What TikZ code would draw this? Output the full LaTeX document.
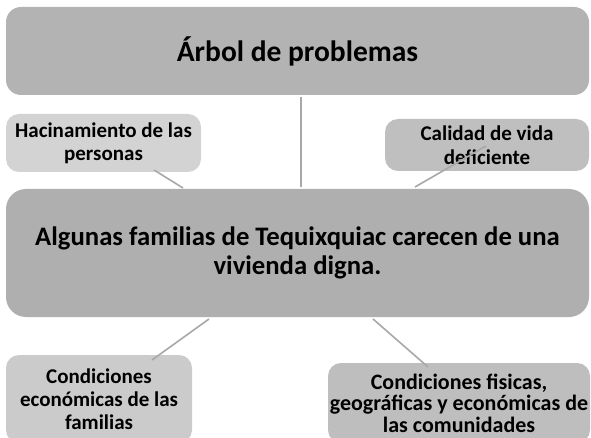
\documentclass[tikz,border=0pt]{standalone}
\usepackage{fontspec}
\setmainfont{Carlito}
\definecolor{cTop}{HTML}{B3B3B3}
\definecolor{cHac}{HTML}{D3D3D3}
\definecolor{cCal}{HTML}{BFBFBF}
\definecolor{cMain}{HTML}{AFAFAF}
\definecolor{cBL}{HTML}{CBCBCB}
\definecolor{cBR}{HTML}{BEBEBE}
\definecolor{cLine}{HTML}{A8A8A8}
\tikzset{
  box/.style={rounded corners=13pt, inner sep=0pt, align=center, text=black, font=\bfseries\fontsize{21}{23}\selectfont},
  conn/.style={draw=cLine, line width=1.6pt}
}
\begin{document}
\begin{tikzpicture}[x=1pt,y=-1pt]
\useasboundingbox (0,0) rectangle (591,438);
\clip (0,0) rectangle (591,438);
\fill[white] (0,0) rectangle (591,438);
% boxes
\node[box, fill=cTop, minimum width=583pt, minimum height=88pt, rounded corners=15pt, font=\bfseries\fontsize{29.5}{32}\selectfont] (top) at (297.5,51) {Árbol de problemas};
\node[box, fill=cHac, minimum width=195pt, minimum height=58pt] (hac) at (103.5,143) {Hacinamiento de las\\personas};
\node[box, fill=cCal, minimum width=204pt, minimum height=52pt, font=\bfseries\fontsize{21}{24}\selectfont] (cal) at (487,145) {Calidad de vida\\deficiente};
\node[box, fill=cMain, minimum width=583pt, minimum height=128pt, rounded corners=20pt, font=\bfseries\fontsize{26.7}{29.5}\selectfont] (main) at (297.5,253) {Algunas familias de Tequixquiac carecen de una\\vivienda digna.};
\node[box, fill=cBL, minimum width=186pt, minimum height=88pt] (bl) at (99,399) {Condiciones\\económicas de las\\familias};
\node[box, fill=cBR, minimum width=262pt, minimum height=80pt, font=\bfseries\fontsize{22}{21.5}\selectfont] (br) at (459,403) {Condiciones fisicas,\\geográficas y económicas de\\las comunidades};
% connector ends
\coordinate (v1) at (301,97);
\coordinate (v2) at (301,187);
\coordinate (h1) at (154,170);
\coordinate (h2) at (183,188);
\coordinate (c1) at (486,146);
\coordinate (c2) at (415,187);
\coordinate (b1) at (209,319);
\coordinate (b2) at (152,360);
\coordinate (r1) at (373,319);
\coordinate (r2) at (428,367);
\draw[conn] (v1) -- (v2);
\draw[conn] (h1) -- (h2);
\draw[conn] (c1) -- (c2);
\draw[conn] (b1) -- (b2);
\draw[conn] (r1) -- (r2);
\end{tikzpicture}
\end{document}
